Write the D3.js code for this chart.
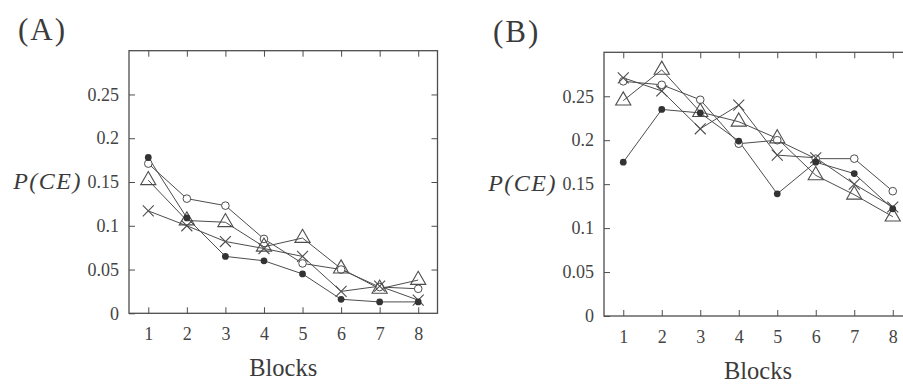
<!DOCTYPE html>
<meta charset="utf-8">
<style>
body { margin: 0; background: #fff; }
</style>
<svg width="903" height="385"></svg>
<script src="https://d3js.org/d3.v7.min.js"></script>
<script>
var blocks = [1, 2, 3, 4, 5, 6, 7, 8];
var yTicks = [0, 0.05, 0.1, 0.15, 0.2, 0.25];
var yTickLabels = ["0", "0.05", "0.1", "0.15", "0.2", "0.25"];

// panel (A)
var aFilled   = [0.178, 0.109, 0.065, 0.060, 0.045, 0.016, 0.013, 0.013];
var aOpen     = [0.171, 0.131, 0.123, 0.085, 0.057, 0.050, 0.030, 0.028];
var aTriangle = [0.152, 0.106, 0.104, 0.076, 0.086, 0.051, 0.028, 0.038];
var aCross    = [0.117, 0.100, 0.082, 0.074, 0.065, 0.025, 0.031, 0.015];

// panel (B)
var bFilled   = [0.175, 0.235, 0.231, 0.199, 0.139, 0.175, 0.162, 0.122];
var bOpen     = [0.267, 0.263, 0.246, 0.196, 0.200, 0.179, 0.179, 0.142];
var bTriangle = [0.245, 0.280, 0.232, 0.221, 0.202, 0.160, 0.138, 0.113];
var bCross    = [0.271, 0.256, 0.213, 0.240, 0.183, 0.180, 0.150, 0.124];

var svg = d3.select("svg");
var ink = "#4d4d4d";
var serif = "Liberation Serif";

function drawPanel(title, series, box) {
	var x = d3.scaleLinear().domain([0.5, 8.5]).range([box.left, box.right]);
	var y = d3.scaleLinear().domain([0, 0.3]).range([box.bottom, box.top]);
	var g = svg.append("g");

	// frame
	g.append("rect")
		.attr("x", box.left)
		.attr("y", box.top)
		.attr("width", box.right - box.left)
		.attr("height", box.bottom - box.top)
		.style("fill", "none")
		.style("stroke", ink)
		.style("stroke-width", 1.3);

	// ticks point inward on all four sides
	var left = g.append("g")
		.attr("transform", "translate(" + box.left + ",0)")
		.call(d3.axisLeft(y).tickValues(yTicks).tickSize(-6).tickPadding(10)
			.tickFormat(function(d, i) { return yTickLabels[i]; }));
	var right = g.append("g")
		.attr("transform", "translate(" + box.right + ",0)")
		.call(d3.axisRight(y).tickValues(yTicks.slice(1)).tickSize(-6).tickFormat(""));
	var bottom = g.append("g")
		.attr("transform", "translate(0," + box.bottom + ")")
		.call(d3.axisBottom(x).tickValues(blocks).tickSize(-6).tickPadding(14).tickFormat(d3.format("d")));
	var top = g.append("g")
		.attr("transform", "translate(0," + box.top + ")")
		.call(d3.axisTop(x).tickValues(blocks).tickSize(-6).tickFormat(""));

	[left, right, bottom, top].forEach(function(a) {
		a.attr("font-family", serif).attr("font-size", 18);
		a.select(".domain").remove();
		a.selectAll("line").style("stroke", ink).style("stroke-width", 1);
		a.selectAll("text").attr("fill", "#444");
	});

	var line = d3.line()
		.x(function(d, i) { return x(blocks[i]); })
		.y(function(d) { return y(d); });

	series.forEach(function(s) {
		g.append("path")
			.datum(s.values)
			.attr("d", line)
			.style("fill", "none")
			.style("stroke", ink)
			.style("stroke-width", 1);
	});

	series.forEach(function(s) {
		var marks = g.selectAll(null)
			.data(s.values)
			.enter()
			.append("path")
			.attr("transform", function(d, i) {
				return "translate(" + x(blocks[i]) + "," + y(d) + ")";
			});
		if (s.marker == "filled") {
			marks.attr("d", d3.symbol().type(d3.symbolCircle).size(36))
				.style("fill", "#333")
				.style("stroke", "none");
		} else if (s.marker == "open") {
			marks.attr("d", d3.symbol().type(d3.symbolCircle).size(46))
				.style("fill", "#fff")
				.style("stroke", ink)
				.style("stroke-width", 1);
		} else if (s.marker == "triangle") {
			marks.attr("d", d3.symbol().type(d3.symbolTriangle).size(100))
				.style("fill", "none")
				.style("stroke", ink)
				.style("stroke-width", 1.1);
		} else {
			marks.attr("d", d3.symbol().type(d3.symbolTimes).size(80))
				.style("fill", "none")
				.style("stroke", ink)
				.style("stroke-width", 1.1);
		}
	});

	// labels
	svg.append("text")
		.attr("x", box.left - 111)
		.attr("y", box.top - 10.5)
		.attr("font-family", serif)
		.attr("font-size", 31)
		.attr("fill", "#3b3b3b")
		.style("letter-spacing", "2px")
		.text(title);

	svg.append("text")
		.attr("x", box.left - 47)
		.attr("y", y(0.15) + 7)
		.attr("text-anchor", "end")
		.attr("font-family", serif)
		.attr("font-size", 24)
		.attr("font-style", "italic")
		.attr("fill", "#3b3b3b")
		.style("letter-spacing", "1.5px")
		.text("P(CE)");

	svg.append("text")
		.attr("x", (box.left + box.right) / 2)
		.attr("y", box.bottom + 63)
		.attr("text-anchor", "middle")
		.attr("font-family", serif)
		.attr("font-size", 24.5)
		.attr("fill", "#3b3b3b")
		.text("Blocks");
}

drawPanel("(A)", [
	{ values: aOpen, marker: "open" },
	{ values: aTriangle, marker: "triangle" },
	{ values: aCross, marker: "cross" },
	{ values: aFilled, marker: "filled" }
], { left: 129, right: 437.5, top: 50.7, bottom: 313.3 });

drawPanel("(B)", [
	{ values: bOpen, marker: "open" },
	{ values: bTriangle, marker: "triangle" },
	{ values: bCross, marker: "cross" },
	{ values: bFilled, marker: "filled" }
], { left: 604, right: 912, top: 52.3, bottom: 316 });
</script>
